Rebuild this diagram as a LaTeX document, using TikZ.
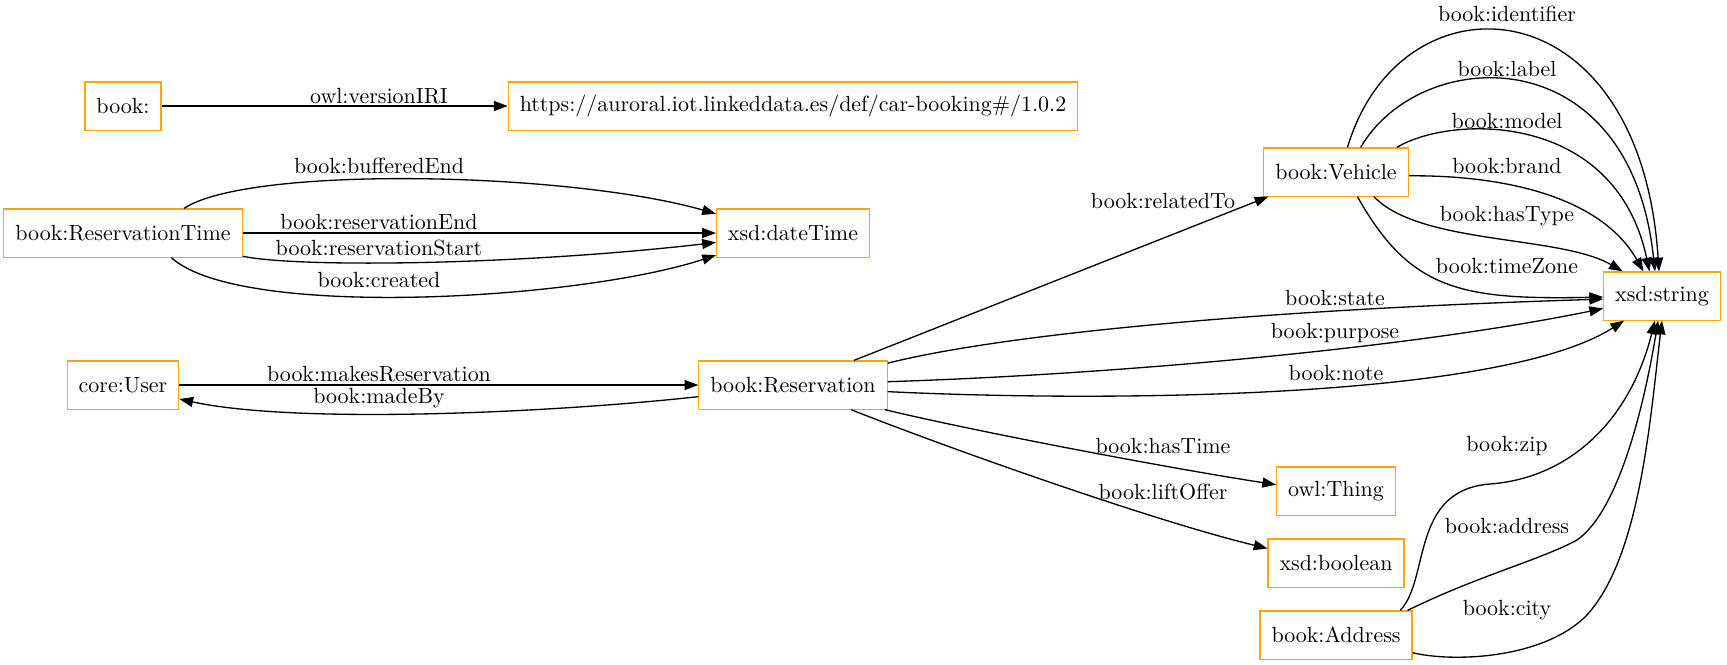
\documentclass[tikz,border=0pt]{standalone}
\usepackage{xcolor}
\usepackage{tikz}
\usetikzlibrary{arrows.meta}

\definecolor{classorange}{HTML}{FFA500}

\begin{document}
\begin{tikzpicture}[x=0.016cm, y=-0.016cm,
    cls/.style={draw=classorange, line width=0.5pt, minimum height=0.77cm, inner xsep=0.184cm},
    prop/.style={-{Triangle[length=0.22cm, width=0.16cm]}, line width=0.6pt},
    lbl/.style={inner sep=0pt}]
    \useasboundingbox (0,0) rectangle (1727,664);

    % Classes, first rank
    \node[cls] (ns) at (123,106) {book:};
    \node[cls] (restime) at (123,233) {book:ReservationTime};
    \node[cls] (user) at (123,385) {core:User};

    % Second rank
    \node[cls] (version) at (793,106) {https://auroral.iot.linkeddata.es/def/car-booking\#/1.0.2};
    \node[cls] (datetime) at (793,233) {xsd:dateTime};
    \node[cls] (reservation) at (793,385) {book:Reservation};

    % Third rank
    \node[cls] (vehicle) at (1336,172) {book:Vehicle};
    \node[cls] (thing) at (1336,491) {owl:Thing};
    \node[cls] (boolean) at (1336,563) {xsd:boolean};
    \node[cls] (address) at (1336,635) {book:Address};

    % Last rank
    \node[cls] (string) at (1662,296) {xsd:string};

    % Ontology version
    \draw[prop] (ns.east) -- (version.west);
    \node[lbl] (lVersion) at (379,96) {owl:versionIRI};

    % Reservation time
    \draw[prop] (restime.22) .. controls (250,165) and (570,172) .. (datetime.166);
    \draw[prop] (restime.east) -- (datetime.west);
    \draw[prop] (restime.-11) .. controls (300,268) and (520,265) .. (datetime.187);
    \draw[prop] (restime.-27) .. controls (240,320) and (580,300) .. (datetime.196);
    \node[lbl] (lBuffered) at (379,166) {book:bufferedEnd};
    \node[lbl] (lResEnd) at (379,222) {book:reservationEnd};
    \node[lbl] (lResStart) at (379,248) {book:reservationStart};
    \node[lbl] (lCreated) at (379,280) {book:created};

    % User and reservation
    \draw[prop] (user.east) -- (reservation.west);
    \draw[prop] (reservation.187) .. controls (560,412) and (300,425) .. (user.-14);
    \node[lbl] (lMakes) at (379,374) {book:makesReservation};
    \node[lbl] (lMadeBy) at (379,398) {book:madeBy};

    % Reservation properties
    \draw[prop] (reservation.22) -- (vehicle.-160);
    \draw[prop] (reservation.13) .. controls (1000,335) and (1250,310) .. (string.183);
    \draw[prop] (reservation.2) .. controls (1100,375) and (1400,350) .. (string.192);
    \draw[prop] (reservation.-4) .. controls (1100,402) and (1500,400) .. (string.213);
    \draw[prop] (reservation.-15) .. controls (960,428) and (1150,465) .. (thing.174);
    \draw[prop] (reservation.-23) .. controls (940,445) and (1150,520) .. (boolean.168);
    \node[lbl] (lRelated) at (1163,201) {book:relatedTo};
    \node[lbl] (lState) at (1335,298) {book:state};
    \node[lbl] (lPurpose) at (1335,333) {book:purpose};
    \node[lbl] (lNote) at (1336,373) {book:note};
    \node[lbl] (lHasTime) at (1163,446) {book:hasTime};
    \node[lbl] (lLift) at (1163,492) {book:liftOffer};

    % Vehicle properties
    \draw[prop] (vehicle.65) .. controls (1400,-30) and (1640,-20) .. (string.97);
    \draw[prop] (vehicle.45) .. controls (1420,45) and (1630,35) .. (string.106);
    \draw[prop] (vehicle.22) .. controls (1450,115) and (1615,110) .. (string.117);
    \draw[prop] (vehicle.-3) .. controls (1500,175) and (1600,195) .. (string.127);
    \draw[prop] (vehicle.-33) .. controls (1420,245) and (1560,235) .. (string.148);
    \draw[prop] (vehicle.-49) .. controls (1410,290) and (1460,300) .. (string.181);
    \node[lbl] (lIdent) at (1507,14) {book:identifier};
    \node[lbl] (lLabel) at (1507,69) {book:label};
    \node[lbl] (lModel) at (1507,121) {book:model};
    \node[lbl] (lBrand) at (1507,166) {book:brand};
    \node[lbl] (lType) at (1507,216) {book:hasType};
    \node[lbl] (lZone) at (1507,266) {book:timeZone};

    % Address properties
    \draw[prop] (address.21) .. controls (1430,580) and (1410,490) .. (1490,484)
        .. controls (1570,478) and (1630,420) .. (string.254);
    \draw[prop] (address.19) .. controls (1480,575) and (1540,560) .. (1577,540)
        .. controls (1620,510) and (1645,400) .. (string.261);
    \draw[prop] (address.-13) .. controls (1450,662) and (1540,660) .. (1585,617)
        .. controls (1640,560) and (1650,420) .. (string.south);
    \node[lbl] (lZip) at (1507,446) {book:zip};
    \node[lbl] (lAddress) at (1507,526) {book:address};
    \node[lbl] (lCity) at (1507,610) {book:city};
\end{tikzpicture}
\end{document}
